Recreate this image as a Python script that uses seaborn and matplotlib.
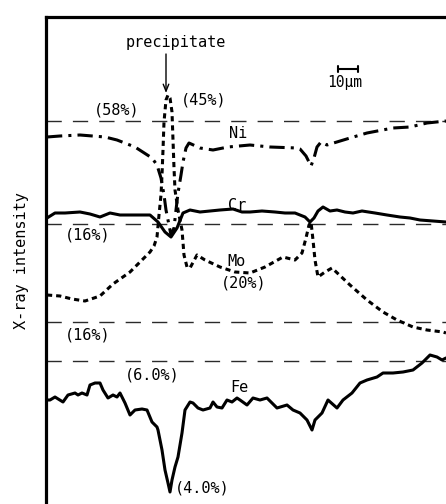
import matplotlib
matplotlib.use("Agg")
import matplotlib.pyplot as plt
import seaborn as sns

# ---- data: distance (um) and X-ray intensity (arbitrary units) ----
ni_x = [0.5, 7, 17, 29.5, 35.5, 44.5, 53, 55.5, 57.5, 59, 60, 61.5, 62.5, 64, 65, 66, 67.5,
        68.5, 70, 71.5, 77, 83.5, 91, 102, 112, 125.5, 127, 130, 132.5, 134, 135.5, 137.5,
        140.5, 152, 160.5, 173.5, 182, 190.5, 200]
ni_y = [367, 368, 369, 367, 364, 357, 346, 339, 326, 309, 294, 279, 269, 276, 294, 311, 329,
        342, 356, 361, 356, 354, 357, 359, 357, 356, 355, 348, 338, 346, 357, 362,
        359, 366, 371, 376, 377, 381, 383]

cr_x = [0.5, 4.5, 9.5, 17, 22, 27, 32, 37, 42, 52, 56, 59.5, 62.5, 65.5, 68.5, 72, 77, 82,
        87, 93.5, 98, 102, 108, 114.5, 119.5, 124.5, 129.5, 132, 134, 136, 138.5, 142,
        145.5, 149.5, 153.5, 158, 164.5, 170.5, 177, 182, 187, 200]
cr_y = [286, 291, 291, 292, 290, 287, 291, 289, 289, 289, 282, 272, 267, 276, 291, 294, 292, 293,
        294, 295, 292, 292, 293, 292, 291, 291, 287, 282, 286, 293, 297, 293,
        294, 292, 291, 293, 291, 289, 287, 286, 284, 282]

mo_x = [0.5, 7, 13, 19.5, 27, 33.5, 42, 49.5, 52, 54, 55.5, 56.5, 57.5, 58, 58.5, 59, 60, 61,
        62, 63, 63.5, 64, 64.5, 66, 68, 69, 70.5, 72, 75.5, 79.5, 87, 94.5, 102, 109.5,
        118.5, 124.5, 128, 130, 131.5, 132.5, 133.5, 134.5, 136, 139.5, 143, 152, 160.5,
        168.5, 175.5, 183.5, 190.5, 198.5, 200]
mo_y = [209, 208, 205, 203, 208, 220, 232, 247, 252, 258, 267, 289, 309, 329, 354, 382, 404, 409,
        406, 392, 364, 336, 314, 294, 274, 249, 237, 236, 249, 244, 237, 232, 231, 237,
        247, 244, 251, 266, 279, 282, 264, 244, 227, 232, 236, 219, 204,
        192, 184, 177, 174, 172, 171]

fe_x = [0.5, 2, 4.5, 8.5, 11, 14.5, 16, 18, 20.5, 22, 24.5, 27, 28.5, 31, 33.5, 35.5, 37, 39.5,
        42, 44.5, 48, 50.5, 53, 55.5, 56, 58, 59.5, 61, 62, 63, 64.5, 66, 68, 69.5, 72, 73.5,
        76, 78.5, 82, 83.5, 85.5, 88, 90.5, 93, 95.5, 97, 100.5, 103.5, 107, 110.5, 115.5,
        120.5, 123.5, 127, 130.5, 133, 134.5, 138, 141, 145.5, 148.5, 153, 157, 160.5,
        165.5, 168.5, 173.5, 178.5, 183.5, 188, 192, 195.5, 198, 200]
fe_y = [104, 104, 107, 102, 109, 111, 109, 111, 109, 119, 121, 121, 114, 106, 109, 107, 111, 101,
        89, 94, 95, 94, 82, 77, 74, 54, 34, 21, 12, 24, 37, 47, 71, 94, 102, 101,
        96, 94, 96, 102, 97, 96, 104, 102, 106, 104, 99, 106, 104, 106, 96,
        99, 94, 91, 84, 74, 84, 91, 104, 96, 104, 111, 121, 124,
        127, 131, 131, 132, 134, 141, 149, 147, 144, 146]

ref_levels = [383, 280, 182, 143]          # Ni 58 %, Cr 16 %, Mo 16 %, Fe 6.0 %
ref_labels = ["(58%)", "(16%)", "(16%)", "(6.0%)"]
curve_names = ["Ni", "Cr", "Mo", "Fe"]

# ---- style ----
sns.set_style("white")
plt.rcParams['font.family'] = ['DejaVu Sans Mono', 'DejaVu Sans']
plt.rcParams['text.color'] = 'black'
plt.rcParams['axes.labelcolor'] = 'black'

fig = plt.figure(figsize=(4.46, 5.04), dpi=100)
ax = fig.add_axes([46 / 446, 0, 400 / 446, 487 / 504])

for lv in ref_levels:
    ax.axhline(lv, color="#2a2a2a", lw=1.0, linestyle=(0, (11, 8)), zorder=1)

sns.lineplot(x=ni_x, y=ni_y, ax=ax, color="black", linewidth=2.2,
             linestyle=(0, (5, 2, 1, 2)), estimator=None, sort=False)
sns.lineplot(x=cr_x, y=cr_y, ax=ax, color="black", linewidth=2.2,
             estimator=None, sort=False)
sns.lineplot(x=mo_x, y=mo_y, ax=ax, color="black", linewidth=2.2,
             linestyle=(0, (1.7, 1.3)), estimator=None, sort=False)
sns.lineplot(x=fe_x, y=fe_y, ax=ax, color="black", linewidth=2.2,
             estimator=None, sort=False)

ax.set_xlim(0, 200)
ax.set_ylim(0, 487)
ax.set_xticks([])
ax.set_yticks([])
for s in ["right", "bottom"]:
    ax.spines[s].set_visible(False)
for s in ["left", "top"]:
    ax.spines[s].set_color("black")
    ax.spines[s].set_linewidth(2.3)

fs = 11
ax.set_ylabel("X-ray intensity", fontsize=fs, labelpad=12)

# annotations
ax.text(65, 462, "precipitate", ha="center", va="center", fontsize=fs)
ax.annotate("", xy=(60, 411), xytext=(60, 450),
            arrowprops=dict(arrowstyle="->,head_length=0.5,head_width=0.2", color="black",
                            lw=1.0, shrinkA=0, shrinkB=0))
ax.annotate("", xy=(146, 435), xytext=(156, 435),
            arrowprops=dict(arrowstyle="|-|,widthA=0.25,widthB=0.25", color="black", lw=1.5,
                            shrinkA=0, shrinkB=0))
ax.text(149.5, 422, "10µm", ha="center", va="center", fontsize=10.5)

ax.text(35.5, 394, ref_labels[0], ha="center", va="center", fontsize=fs)
ax.text(79, 404, "(45%)", ha="center", va="center", fontsize=fs)
ax.text(96, 371, curve_names[0], ha="center", va="center", fontsize=fs)
ax.text(95.5, 299, curve_names[1], ha="center", va="center", fontsize=fs)
ax.text(21, 269, ref_labels[1], ha="center", va="center", fontsize=fs)
ax.text(95.5, 242, curve_names[2], ha="center", va="center", fontsize=fs)
ax.text(99, 221, "(20%)", ha="center", va="center", fontsize=fs)
ax.text(21, 169, ref_labels[2], ha="center", va="center", fontsize=fs)
ax.text(53, 129, ref_labels[3], ha="center", va="center", fontsize=fs)
ax.text(96.5, 116, curve_names[3], ha="center", va="center", fontsize=fs)
ax.text(78, 16, "(4.0%)", ha="center", va="center", fontsize=fs)

fig.savefig("out.png", dpi=100)
